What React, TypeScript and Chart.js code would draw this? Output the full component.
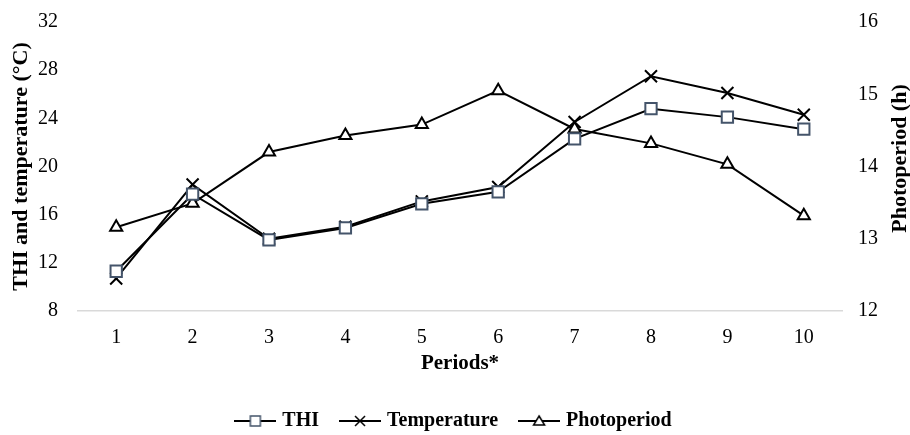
import React, { useEffect, useRef } from 'react';
import { Chart, registerables } from 'chart.js';

Chart.register(...registerables);

const periods = ['1', '2', '3', '4', '5', '6', '7', '8', '9', '10'];
const thi = [11.3, 17.7, 13.9, 14.9, 16.9, 17.9, 22.3, 24.8, 24.1, 23.1];
const temperature = [10.7, 18.5, 14.0, 15.0, 17.1, 18.3, 23.7, 27.5, 26.1, 24.3];
const photoperiod = [13.16, 13.49, 14.2, 14.43, 14.58, 15.05, 14.52, 14.32, 14.03, 13.32];

const leftTicks = { min: 8, max: 32, step: 4 };
const rightTicks = { min: 12, max: 16, step: 1 };
const rightTitle = 'Photoperiod (h)';

const FONT = '"Liberation Serif", "Times New Roman", serif';
const THI_COLOR = '#44546A';

function makeIcon(kind: string, color: string): HTMLCanvasElement {
  const c = document.createElement('canvas');
  c.width = 42;
  c.height = 14;
  const ctx = c.getContext('2d')!;
  ctx.strokeStyle = '#000';
  ctx.lineWidth = 2;
  ctx.beginPath();
  ctx.moveTo(0, 7);
  ctx.lineTo(42, 7);
  ctx.stroke();
  ctx.strokeStyle = color;
  ctx.fillStyle = '#fff';
  ctx.lineWidth = 1.5;
  if (kind === 'rect') {
    ctx.fillRect(16, 2, 10, 10);
    ctx.strokeRect(16, 2, 10, 10);
  } else if (kind === 'cross') {
    ctx.beginPath();
    ctx.moveTo(16, 2);
    ctx.lineTo(26, 12);
    ctx.moveTo(26, 2);
    ctx.lineTo(16, 12);
    ctx.stroke();
  } else {
    ctx.beginPath();
    ctx.moveTo(21, 2);
    ctx.lineTo(26.5, 11);
    ctx.lineTo(15.5, 11);
    ctx.closePath();
    ctx.fill();
    ctx.stroke();
  }
  return c;
}

const rightTitlePlugin = {
  id: 'rightTitle',
  afterDraw(chart: any) {
    const { ctx, chartArea, width } = chart;
    ctx.save();
    ctx.fillStyle = '#000';
    ctx.font = `bold 22px ${FONT}`;
    ctx.textAlign = 'center';
    ctx.textBaseline = 'middle';
    ctx.translate(width - 10, (chartArea.top + chartArea.bottom) / 2 - 8);
    ctx.rotate(-Math.PI / 2);
    ctx.fillText(rightTitle, 0, 0);
    ctx.restore();
  },
};

export default function App() {
  const ref = useRef<HTMLCanvasElement | null>(null);

  useEffect(() => {
    document.body.style.margin = '0';
    document.body.style.overflow = 'hidden';
    const icons = [makeIcon('rect', THI_COLOR), makeIcon('cross', '#000'), makeIcon('tri', '#000')];
    const chart = new Chart(ref.current!, {
      type: 'line',
      plugins: [rightTitlePlugin],
      data: {
        labels: periods,
        datasets: [
          {
            label: 'THI',
            data: thi,
            yAxisID: 'y',
            borderColor: '#000',
            borderWidth: 2,
            pointStyle: 'rect',
            pointRadius: 8,
            pointBorderColor: THI_COLOR,
            pointBackgroundColor: '#fff',
            pointBorderWidth: 2,
            tension: 0,
          },
          {
            label: 'Temperature',
            data: temperature,
            yAxisID: 'y',
            borderColor: '#000',
            borderWidth: 2,
            pointStyle: 'crossRot',
            pointRadius: 8.5,
            pointBorderColor: '#000',
            pointBackgroundColor: '#000',
            pointBorderWidth: 2,
            tension: 0,
          },
          {
            label: 'Photoperiod',
            data: photoperiod,
            yAxisID: 'y1',
            borderColor: '#000',
            borderWidth: 2,
            pointStyle: 'triangle',
            pointRadius: 7,
            pointBorderColor: '#000',
            pointBackgroundColor: '#fff',
            pointBorderWidth: 2,
            tension: 0,
          },
        ],
      },
      options: {
        responsive: false,
        animation: false,
        layout: { padding: { top: 22, bottom: -6, left: 0, right: 0 } },
        plugins: {
          tooltip: { enabled: false },
          legend: {
            position: 'bottom',
            labels: {
              usePointStyle: true,
              pointStyleWidth: 34,
              padding: 24,
              color: '#000',
              font: { family: FONT, size: 20, weight: 'bold' },
              generateLabels: (c: any) =>
                c.data.datasets.map((ds: any, i: number) => ({
                  text: ds.label,
                  pointStyle: icons[i],
                  fillStyle: '#fff',
                  strokeStyle: '#000',
                  lineWidth: 0,
                  hidden: false,
                  datasetIndex: i,
                  fontColor: '#000',
                })),
            },
          },
        },
        scales: {
          x: {
            offset: true,
            grid: { display: false, drawTicks: false, offset: true },
            border: { display: true, color: '#d9d9d9', width: 1.5 },
            ticks: { color: '#000', padding: 15, font: { family: FONT, size: 20 } },
            title: {
              display: true,
              text: 'Periods*',
              color: '#000',
              padding: { top: 0, bottom: 11 },
              font: { family: FONT, size: 21, weight: 'bold' },
            },
            afterFit: (s: any) => {
              s.height = 76;
              s.paddingLeft = 0;
              s.paddingRight = 0;
            },
          },
          y: {
            position: 'left',
            min: leftTicks.min,
            max: leftTicks.max,
            grid: { display: false, drawTicks: false },
            border: { display: false },
            ticks: {
              stepSize: leftTicks.step,
              color: '#000',
              padding: 20,
              font: { family: FONT, size: 20 },
            },
            title: {
              display: true,
              text: 'THI and temperature (°C)',
              color: '#000',
              padding: { top: 8, bottom: 0 },
              font: { family: FONT, size: 22, weight: 'bold' },
            },
            afterFit: (s: any) => {
              s.width = 78;
              s.paddingTop = 0;
              s.paddingBottom = 0;
            },
          },
          y1: {
            position: 'right',
            min: rightTicks.min,
            max: rightTicks.max,
            grid: { display: false, drawTicks: false },
            border: { display: false },
            ticks: {
              stepSize: rightTicks.step,
              color: '#000',
              padding: 16,
              font: { family: FONT, size: 20 },
            },
            afterFit: (s: any) => {
              s.width = 68;
              s.paddingTop = 0;
              s.paddingBottom = 0;
            },
          },
        },
      },
    });
    return () => chart.destroy();
  }, []);

  return <canvas ref={ref} width={910} height={435} style={{ display: 'block' }} />;
}
